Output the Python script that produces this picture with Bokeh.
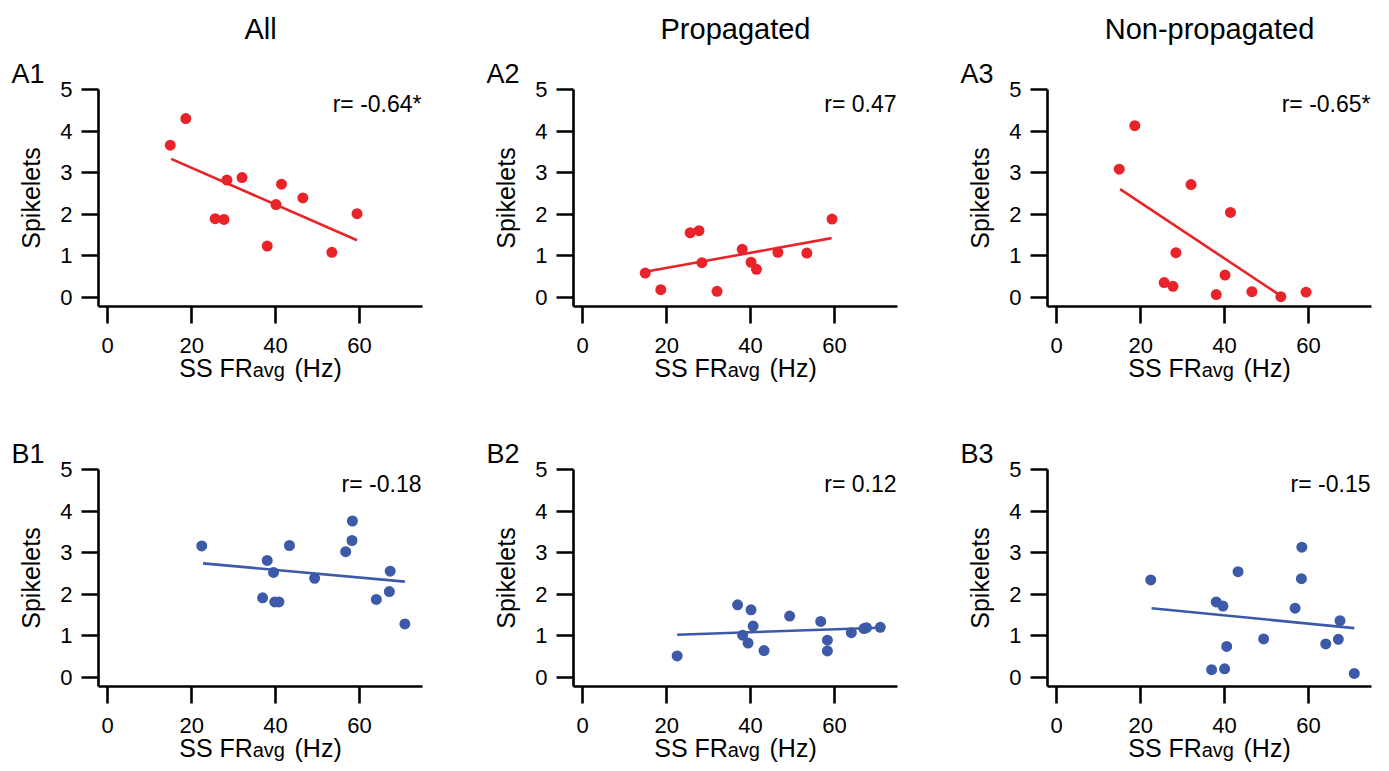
from bokeh.plotting import figure
from bokeh.layouts import gridplot
from bokeh.models import Label, Range1d, FixedTicker, LinearAxis, Title
from bokeh.embed import file_html
from bokeh.resources import INLINE

FONT = "Liberation Sans"
RED = "#E8242A"
BLUE = "#3D5AA8"

# ---- data ----
col_titles = ["All", "Propagated", "Non-propagated"]
x_ticks = [0, 20, 40, 60]
y_ticks = [0, 1, 2, 3, 4, 5]

# Row A: 12 cells
fr_A = [14.9, 18.6, 25.6, 27.7, 28.4, 32.0, 38.0, 40.1, 41.4, 46.5, 53.4, 59.4]
spk_A1 = [3.66, 4.30, 1.89, 1.87, 2.82, 2.88, 1.23, 2.23, 2.72, 2.39, 1.08, 2.01]
spk_A2 = [0.58, 0.18, 1.55, 1.60, 0.83, 0.14, 1.15, 0.84, 0.67, 1.08, 1.06, 1.88]
spk_A3 = [3.08, 4.13, 0.35, 0.26, 1.07, 2.71, 0.06, 0.53, 2.04, 0.13, 0.01, 0.12]

# Row B: 15 cells
fr_B1 = [22.4, 36.9, 38.0, 39.5, 39.8, 40.8, 43.3, 49.3, 56.7, 58.2, 58.3, 64.0, 67.1, 67.3, 70.8]
spk_B1 = [3.16, 1.91, 2.81, 2.52, 1.81, 1.81, 3.17, 2.38, 3.02, 3.29, 3.76, 1.87, 2.06, 2.55, 1.28]
fr_B2 = [22.5, 36.9, 38.1, 39.4, 40.1, 40.6, 43.2, 49.3, 56.7, 58.3, 58.3, 64.0, 67.0, 67.6, 70.9]
spk_B2 = [0.51, 1.74, 1.01, 0.82, 1.62, 1.23, 0.64, 1.47, 1.34, 0.89, 0.63, 1.07, 1.17, 1.19, 1.20]
fr_B3 = [22.4, 36.9, 38.0, 39.6, 40.0, 40.5, 43.2, 49.3, 56.8, 58.3, 58.4, 64.1, 67.1, 67.5, 70.9]
spk_B3 = [2.34, 0.18, 1.81, 1.71, 0.20, 0.74, 2.54, 0.92, 1.66, 2.37, 3.13, 0.80, 0.91, 1.36, 0.09]

# regression line end points
fit_A1_x, fit_A1_y = [15.1, 59.4], [3.33, 1.37]
fit_A2_x, fit_A2_y = [14.9, 59.3], [0.61, 1.42]
fit_A3_x, fit_A3_y = [15.1, 53.4], [2.60, 0.03]
fit_B1_x, fit_B1_y = [22.7, 70.8], [2.74, 2.30]
fit_B2_x, fit_B2_y = [22.5, 70.9], [1.02, 1.19]
fit_B3_x, fit_B3_y = [22.6, 70.9], [1.66, 1.18]

r_texts = ["r= -0.64*", "r= 0.47", "r= -0.65*", "r= -0.18", "r= 0.12", "r= -0.15"]
letters = ["A1", "A2", "A3", "B1", "B2", "B3"]
xlabel_main = "SS FR" + "\u00a0" * 6 + "(Hz)"
xlabel_sub = "\u00a0\u00a0\u00a0avg"
ylabel = "Spikelets"

FW, FH = 324, 217


def make_panel(x, y, fx, fy, color, rtext, letter, title, width, left, height, top):
    p = figure(width=width, height=height, output_backend="svg", toolbar_location=None,
               title=None,
               x_range=Range1d(-2.2, 75), y_range=Range1d(-0.226, 5),
               min_border_left=left, min_border_right=width - left - FW,
               min_border_top=top, min_border_bottom=height - top - FH,
               background_fill_color="white", border_fill_color="white")
    p.outline_line_color = None
    p.grid.visible = False
    p.xaxis.ticker = FixedTicker(ticks=x_ticks)
    p.yaxis.ticker = FixedTicker(ticks=y_ticks)
    for ax in (p.xaxis[0], p.yaxis[0]):
        ax.axis_line_width = 2.6
        ax.axis_line_color = "black"
        ax.major_tick_line_width = 2.6
        ax.major_tick_line_color = "black"
        ax.major_tick_out = 17
        ax.major_tick_in = 0
        ax.minor_tick_out = 0
        ax.minor_tick_in = 0
        ax.major_label_text_font = FONT
        ax.major_label_text_font_size = "22px"
        ax.major_label_text_color = "black"
        ax.major_label_standoff = 9
        ax.axis_label_text_font = FONT
        ax.axis_label_text_font_style = "normal"
        ax.axis_label_text_color = "black"
    p.xaxis.major_label_standoff = 14
    p.yaxis.axis_label = ylabel
    p.yaxis.axis_label_text_font_size = "25px"
    p.yaxis.axis_label_standoff = 12

    p.xaxis.axis_label = xlabel_main
    p.xaxis.axis_label_text_font_size = "25px"
    p.xaxis.axis_label_standoff = -2

    # second (label-only) axis carrying the smaller "avg"
    sub = LinearAxis(ticker=FixedTicker(ticks=[]), axis_label=xlabel_sub)
    sub.axis_line_color = None
    sub.major_tick_out = 0
    sub.major_tick_in = 0
    sub.minor_tick_out = 0
    sub.minor_tick_in = 0
    sub.major_label_standoff = 0
    sub.axis_label_text_font = FONT
    sub.axis_label_text_font_size = "20px"
    sub.axis_label_text_font_style = "normal"
    sub.axis_label_text_color = "black"
    sub.axis_label_standoff = -26
    p.add_layout(sub, "below")

    p.line(fx, fy, line_color=color, line_width=2.6)
    p.scatter(x, y, size=11, fill_color=color, line_color=None)

    # r value (inside the frame)
    p.add_layout(Label(x=FW - 1, y=FH - 14.5, x_units="screen", y_units="screen", text=rtext,
                       text_font=FONT, text_font_size="23px", text_align="right",
                       text_baseline="alphabetic", text_color="black"))
    # panel letter and column title, in the space above the frame
    p.add_layout(Title(text=letter, align="left", offset=-87, standoff=-3,
                       vertical_align="top", text_font=FONT, text_font_size="27px",
                       text_font_style="normal", text_color="black"), "above")
    if title:
        p.add_layout(Title(text=title, align="center", standoff=25.5,
                           vertical_align="top", text_font=FONT, text_font_size="29px",
                           text_font_style="normal", text_color="black"), "above")
    return p


widths = [483, 475, 428]
lefts = [98, 90, 89]

row_a_data = [(fr_A, spk_A1, fit_A1_x, fit_A1_y), (fr_A, spk_A2, fit_A2_x, fit_A2_y),
              (fr_A, spk_A3, fit_A3_x, fit_A3_y)]
row_b_data = [(fr_B1, spk_B1, fit_B1_x, fit_B1_y), (fr_B2, spk_B2, fit_B2_x, fit_B2_y),
              (fr_B3, spk_B3, fit_B3_x, fit_B3_y)]

row_a = []
for i, (x, y, fx, fy) in enumerate(row_a_data):
    row_a.append(make_panel(x, y, fx, fy, RED, r_texts[i], letters[i], col_titles[i],
                            widths[i], lefts[i], 390, 89))
row_b = []
for i, (x, y, fx, fy) in enumerate(row_b_data):
    row_b.append(make_panel(x, y, fx, fy, BLUE, r_texts[3 + i], letters[3 + i], None,
                            widths[i], lefts[i], 380, 79))

grid = gridplot([row_a, row_b], toolbar_location=None)

open("out.html", "w").write(file_html(grid, INLINE))
